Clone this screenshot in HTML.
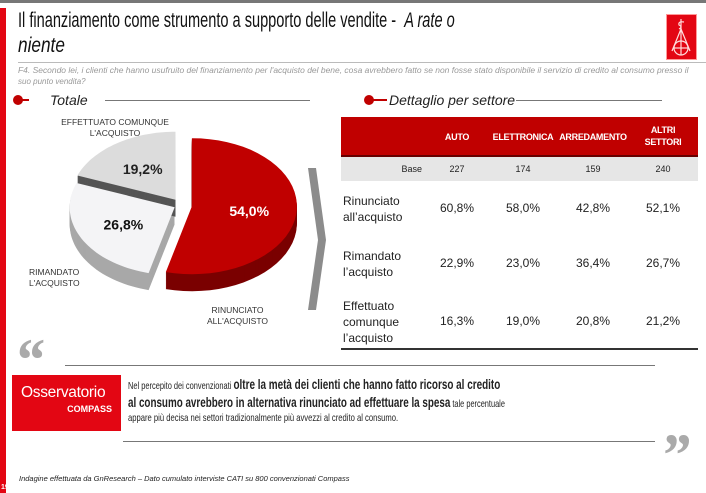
<!DOCTYPE html>
<html><head><meta charset="utf-8">
<style>
body{margin:0;width:706px;height:493px;overflow:hidden;background:#fff;font-family:"Liberation Sans",sans-serif;position:relative}
.a{position:absolute}
.fit{position:absolute;white-space:nowrap;transform-origin:0 0}
</style></head><body>
<div class="a" style="left:0;top:0;width:706px;height:3px;background:#777"></div>
<div class="a" style="left:0;top:8px;width:6px;height:485px;background:#e30613"></div>
<div class="fit" data-fit="437" style="left:18px;top:9px;font-size:21px;color:#111">Il finanziamento come strumento a supporto delle vendite -&nbsp; <i>A rate o</i></div>
<div class="a" style="left:18px;top:34px;font-size:21px;color:#111;font-style:italic;transform:scaleX(0.82);transform-origin:0 0">niente</div>
<div class="a" style="left:666px;top:14px;width:29px;height:44px;background:#e30613;border:1px solid #f99">
<svg width="29" height="44" viewBox="0 0 29 44"><g stroke="#fdd" stroke-width="1.2" fill="none"><line x1="14" y1="4" x2="14" y2="40"/><line x1="14" y1="14" x2="5" y2="36"/><line x1="14" y1="14" x2="23" y2="36"/><circle cx="14" cy="33" r="7"/><line x1="6" y1="33" x2="22" y2="33"/><path d="M17 7 Q11 6 12 10 Q16 12 12 14"/></g></svg></div>
<div class="a" style="left:18px;top:62px;width:688px;height:1px;background:#bbb"></div>
<div class="fit" data-fit="670" style="left:18px;top:66px;font-size:8px;color:#999;font-style:italic">F4. Secondo lei, i clienti che hanno usufruito del finanziamento per l'acquisto del bene, cosa avrebbero fatto se non fosse stato disponibile il servizio di credito al consumo presso il</div>
<div class="a" style="left:18px;top:77px;font-size:8px;color:#999;font-style:italic">suo punto vendita?</div>

<div class="a" style="left:13px;top:95px;width:10px;height:10px;border-radius:50%;background:#c00000"></div>
<div class="a" style="left:22px;top:99px;width:7px;height:2px;background:#c00000"></div>
<div class="a" style="left:50px;top:92px;font-size:14px;font-style:italic;color:#222">Totale</div>
<div class="a" style="left:105px;top:100px;width:205px;height:1px;background:#777"></div>
<div class="a" style="left:364px;top:95px;width:10px;height:10px;border-radius:50%;background:#c00000"></div>
<div class="a" style="left:373px;top:99px;width:14px;height:2px;background:#c00000"></div>
<div class="a" style="left:389px;top:92px;font-size:14px;font-style:italic;color:#222">Dettaglio per settore</div>
<div class="a" style="left:516px;top:100px;width:146px;height:1px;background:#777"></div>

<svg class="a" style="left:0;top:105px" width="340" height="235" id="pie"></svg>
<div class="a" style="left:50px;top:117px;width:130px;text-align:center;font-size:8.5px;line-height:11px;color:#333">EFFETTUATO COMUNQUE<br>L'ACQUISTO</div>
<div class="a" style="left:29px;top:267px;font-size:8.5px;line-height:11px;color:#333">RIMANDATO<br>L'ACQUISTO</div>
<div class="a" style="left:205px;top:305px;width:65px;text-align:center;font-size:8.5px;line-height:11px;color:#333">RINUNCIATO<br>ALL'ACQUISTO</div>
<svg class="a" style="left:308px;top:168px" width="20" height="142"><polygon points="0,0 8,0 18,72 8,142 0,142 10,72" fill="#8c8c8c"/></svg>

<div class="a" style="left:341px;top:117px;width:357px;height:232px">
<div class="a" style="left:0;top:0;width:357px;height:38px;background:#c00000;border-bottom:2px solid #600"></div>
<div class="a" style="left:0;top:40px;width:357px;height:24px;background:#e6e6e6"></div>
<div class="a" style="left:0;top:231px;width:357px;height:2px;background:#333"></div>
</div>
<div id="tbl"></div>

<div class="a" style="left:14px;top:330px;font-size:60px;font-weight:bold;font-style:italic;color:#aaa;font-family:'Liberation Serif',serif;line-height:60px">“</div>
<div class="a" style="left:65px;top:365px;width:590px;height:1px;background:#777"></div>
<div class="a" style="left:12px;top:375px;width:109px;height:56px;background:#e30613;color:#fff">
<div style="position:absolute;left:9px;top:9px;font-size:15.5px;letter-spacing:-0.3px">Osservatorio</div>
<div style="position:absolute;right:9px;top:29px;font-size:9px;font-weight:bold">COMPASS</div></div>
<div class="fit" data-fit="372" style="left:128px;top:376px;font-size:10.5px;color:#222">Nel percepito dei convenzionati <b style="font-size:14px">oltre la metà dei clienti che hanno fatto ricorso al credito</b></div>
<div class="fit" data-fit="377" style="left:128px;top:394px;font-size:10.5px;color:#222"><b style="font-size:14px">al consumo avrebbero in alternativa rinunciato ad effettuare la spesa</b> tale percentuale</div>
<div class="fit" data-fit="270" style="left:128px;top:412px;font-size:10.5px;color:#222">appare più decisa nei settori tradizionalmente più avvezzi al credito al consumo.</div>
<div class="a" style="left:123px;top:441px;width:532px;height:1px;background:#777"></div>
<div class="a" style="left:660px;top:425px;font-size:60px;font-weight:bold;font-style:italic;color:#aaa;font-family:'Liberation Serif',serif;line-height:60px">”</div>
<div class="a" style="left:19px;top:474px;font-size:7.5px;font-style:italic;color:#222">Indagine effettuata da GnResearch – Dato cumulato interviste CATI su 800 convenzionati Compass</div>
<div class="a" style="left:1px;top:484px;font-size:7px;font-weight:bold;color:#fff">19</div>

<script>
const sliceLabels=["RINUNCIATO ALL'ACQUISTO","RIMANDATO L'ACQUISTO","EFFETTUATO COMUNQUE L'ACQUISTO"];
const sliceValues=[54.0,26.8,19.2];
const sliceText=["54,0%","26,8%","19,2%"];
const sectors=["AUTO","ELETTRONICA","ARREDAMENTO","ALTRI<br>SETTORI"];
const bases=["227","174","159","240"];
const rowLabels=["Rinunciato<br>all’acquisto","Rimandato<br>l’acquisto","Effettuato<br>comunque<br>l’acquisto"];
const rinunciato=["60,8%","58,0%","42,8%","52,1%"];
const rimandato=["22,9%","23,0%","36,4%","26,7%"];
const effettuato=["16,3%","19,0%","20,8%","21,2%"];

document.querySelectorAll('.fit').forEach(el=>{const w=el.offsetWidth;const t=+el.getAttribute('data-fit');el.style.transform=`scaleX(${t/w})`;});

const NS="http://www.w3.org/2000/svg";
const svg=document.getElementById('pie');
const cx=180,cy=100,rx=105,ry=68,depth=17;
const tops=["#c00000","#f4f4f6","#dcdcdc"],sides=["#7a0000","#a8a8a8","#555"],txt=["#fff","#111","#222"];
const offs=[12,6,8];
const total=sliceValues.reduce((a,b)=>a+b,0);
function pt(a,ox,oy,dy){return [cx+ox+rx*Math.cos(a),cy+oy+dy+ry*Math.sin(a)];}
function arcPath(a0,a1,ox,oy,dy){
  const c=[cx+ox,cy+oy+dy];let d=`M${c[0]},${c[1]}`;
  const n=40;for(let i=0;i<=n;i++){const p=pt(a0+(a1-a0)*i/n,ox,oy,dy);d+=`L${p[0].toFixed(1)},${p[1].toFixed(1)}`;}
  return d+'Z';}
let a=-Math.PI/2;const slices=[];
sliceValues.forEach((v,i)=>{const a1=a+v/total*2*Math.PI;const m=(a+a1)/2;slices.push({a0:a,a1,ox:offs[i]*Math.cos(m),oy:offs[i]*Math.sin(m)*0.8,m});a=a1;});
slices.forEach((s,i)=>{for(let k=depth;k>0;k-=1){const p=document.createElementNS(NS,'path');
p.setAttribute('d',arcPath(s.a0,s.a1,s.ox,s.oy,k));p.setAttribute('fill',sides[i]);


svg.appendChild(p);}});
slices.forEach((s,i)=>{const p=document.createElementNS(NS,'path');
p.setAttribute('d',arcPath(s.a0,s.a1,s.ox,s.oy,0));p.setAttribute('fill',tops[i]);


svg.appendChild(p);
const t=document.createElementNS(NS,'text');const r=0.55;
t.setAttribute('x',cx+s.ox+rx*r*Math.cos(s.m));t.setAttribute('y',cy+s.oy+ry*r*Math.sin(s.m)+5);
t.setAttribute('text-anchor','middle');t.setAttribute('font-size','14');t.setAttribute('font-weight','bold');
t.setAttribute('fill',txt[i]);t.setAttribute('font-family','Liberation Sans, sans-serif');t.textContent=sliceText[i];


svg.appendChild(t);});

const tb=document.getElementById('tbl');
const colX=[457,523,593,663];
function cell(x,y,w,html,style,name){const d=document.createElement('div');d.className='a';
d.style.cssText=`left:${x-w/2}px;top:${y}px;width:${w}px;text-align:center;`+style;d.innerHTML=html;


tb.appendChild(d);}
sectors.forEach((s,i)=>{const two=s.includes('<br>');cell(colX[i],two?124:131,80,s,'font-size:9px;font-weight:bold;color:#fff;line-height:12px;letter-spacing:-0.3px','column-header');
cell(colX[i],164,60,bases[i],'font-size:9px;color:#222','base-value');});
cell(395,164,54,'Base','font-size:9px;color:#222;text-align:right','base-label');
const rowsY=[201,256,314];const rowData=[rinunciato,rimandato,effettuato];
rowLabels.forEach((l,r)=>{const n=l.split('<br>').length;
const d=document.createElement('div');d.className='a';d.style.cssText=`left:343px;top:${rowsY[r]+8-n*8}px;font-size:12px;line-height:16px;color:#222`;d.innerHTML=l;


tb.appendChild(d);
rowData[r].forEach((v,i)=>cell(colX[i],rowsY[r],70,v,'font-size:12px;color:#222','table-value'));});
</script>
</body></html>
